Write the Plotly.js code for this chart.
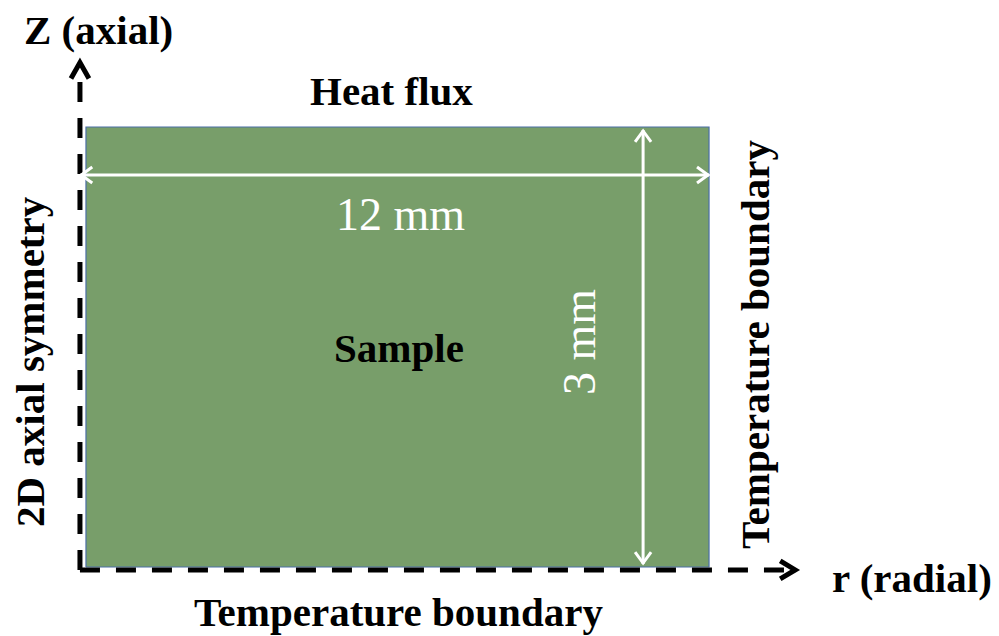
<!DOCTYPE html>
<html><head><meta charset="utf-8">
<script src="https://cdn.plot.ly/plotly-3.0.1.min.js"></script>
<style>html,body{margin:0;padding:0;background:#fff}</style>
</head><body><div id="chart" style="width:999px;height:636px"></div>
<script>
// Sample geometry (mm)
const sampleWidth = 12;
const sampleHeight = 3;
const rectX = [0, sampleWidth, sampleWidth, 0, 0];
const rectY = [0, 0, sampleHeight, sampleHeight, 0];
// dimension arrows (mm)
const widthArrowY = 2.673;
const widthArrowX = [-0.11, sampleWidth];
const heightArrowX = 10.73;
const heightArrowY = [0.02, 2.98];
// coordinate axes (mm)
const axisOrigin = [-0.116, -0.02];
const zAxisTip = 3.44;
const rAxisTip = 13.66;
// labels
const labels = {
  z: 'Z (axial)', r: 'r (radial)', top: 'Heat flux',
  left: '2D axial symmetry', right: 'Temperature boundary',
  bottom: 'Temperature boundary', center: 'Sample',
  width: '12 mm', height: '3 mm'
};

const serif = 'Liberation Serif';
const traces = [
  {x: rectX, y: rectY, mode: 'lines', fill: 'toself', fillcolor: '#789e6a',
   line: {color: '#4a6ea6', width: 1.2}, hoverinfo: 'skip'},
  {x: [axisOrigin[0], axisOrigin[0]], y: [axisOrigin[1], zAxisTip - 0.06], mode: 'lines',
   line: {color: '#000', width: 5, dash: '20px,16px'}, hoverinfo: 'skip'},
  {x: [axisOrigin[0], rAxisTip - 0.15], y: [axisOrigin[1], axisOrigin[1]], mode: 'lines',
   line: {color: '#000', width: 5, dash: '20px,16px'}, hoverinfo: 'skip'},
  {x: widthArrowX, y: [widthArrowY, widthArrowY], mode: 'lines',
   line: {color: '#fff', width: 3}, hoverinfo: 'skip'},
  {x: [heightArrowX, heightArrowX], y: heightArrowY, mode: 'lines',
   line: {color: '#fff', width: 3}, hoverinfo: 'skip'}
];

function chevron(xa, ya, path, color, w) {
  return {type: 'path', xref: 'x', yref: 'y', xsizemode: 'pixel', ysizemode: 'pixel',
    xanchor: xa, yanchor: ya, path: path, line: {color: color, width: w}, layer: 'above'};
}
const shapes = [
  chevron(axisOrigin[0], zAxisTip, 'M -9,-16 L 0,0 L 9,-16', '#000', 5),
  chevron(rAxisTip, axisOrigin[1], 'M -15,9 L 0,0 L -15,-9', '#000', 5),
  chevron(widthArrowX[0], widthArrowY, 'M 12,8 L 1,0 L 12,-8', '#fff', 3),
  chevron(widthArrowX[1], widthArrowY, 'M -12,8 L -1,0 L -12,-8', '#fff', 3),
  chevron(heightArrowX, heightArrowY[1], 'M -8,-12 L 0,-1 L 8,-12', '#fff', 3),
  chevron(heightArrowX, heightArrowY[0], 'M -8,12 L 0,1 L 8,12', '#fff', 3)
];

function ann(text, px, py, size, color, bold, angle) {
  return {text: text, xref: 'paper', yref: 'paper', x: px / 999, y: 1 - py / 636,
    xanchor: 'center', yanchor: 'middle', showarrow: false, textangle: angle || 0,
    font: {family: serif, size: size, color: color, weight: bold ? 'bold' : 'normal'}};
}
const annotations = [
  ann(labels.z, 98, 30, 41, '#000', true),
  ann(labels.top, 391, 91, 41, '#000', true),
  ann(labels.left, 30, 362, 41, '#000', true, -90),
  ann(labels.right, 755, 345, 41, '#000', true, -90),
  ann(labels.bottom, 398, 612, 41, '#000', true),
  ann(labels.r, 912, 578, 41, '#000', true),
  ann(labels.center, 399, 348, 41, '#000', true),
  ann(labels.width, 400, 214, 46, '#fff', false),
  ann(labels.height, 579, 342, 46, '#fff', false, -90)
];

const layout = {
  width: 999, height: 636, margin: {l: 0, r: 0, t: 0, b: 0},
  paper_bgcolor: '#fff', plot_bgcolor: '#fff', showlegend: false,
  xaxis: {range: [-1.656, 17.585], visible: false, fixedrange: true},
  yaxis: {range: [-0.4705, 3.866], visible: false, fixedrange: true},
  shapes: shapes, annotations: annotations
};
Plotly.newPlot('chart', traces, layout, {displayModeBar: false, staticPlot: true});
</script></body></html>
